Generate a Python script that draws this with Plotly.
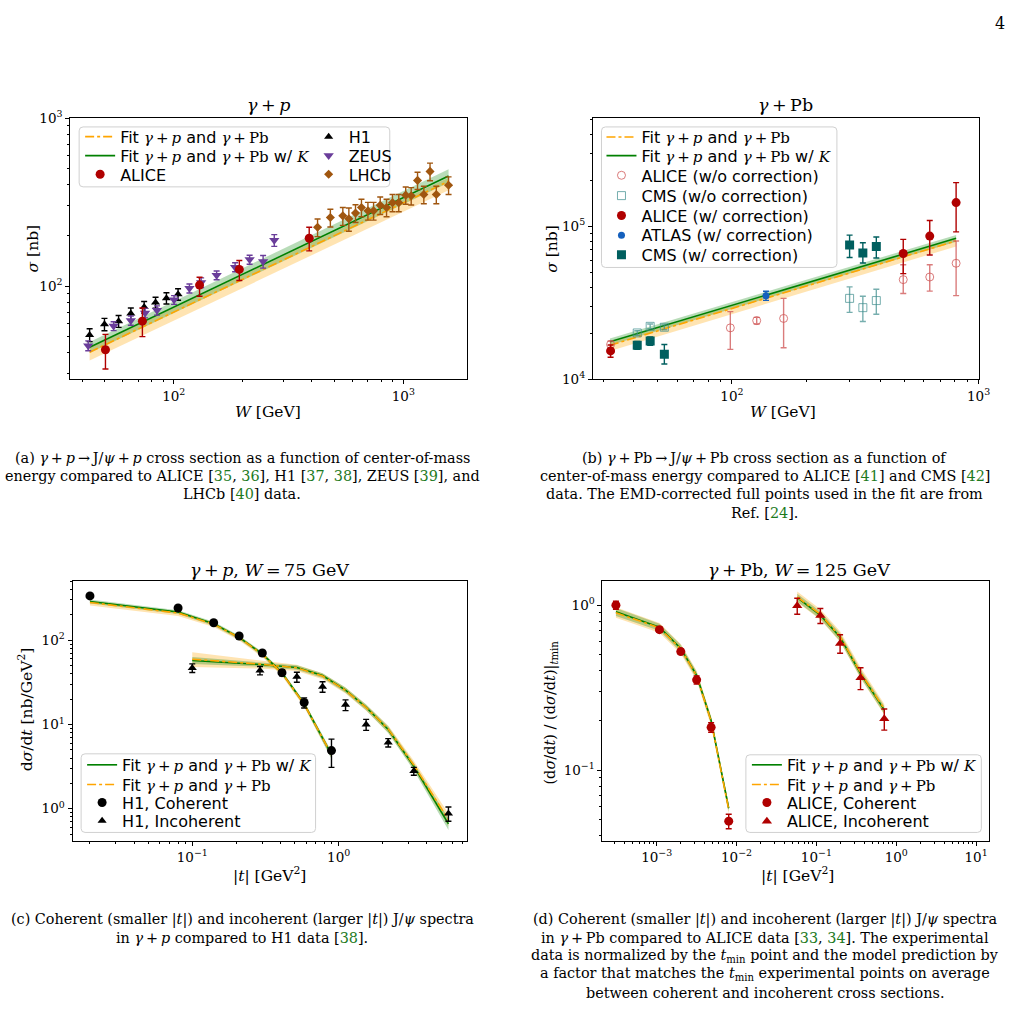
import plotly.graph_objects as go

FIG_W, FIG_H = 1024, 1034
SERIF = "DejaVu Serif"
SANS = "DejaVu Sans"
TS = "\u2009"  # thin space used for math spacing

# ---------------- Panel (a): gamma + p cross section ----------------
h1_W = [43.0, 49.9, 57.5, 65.0, 74.3, 83.3, 92.9, 104.4]
h1_sigma = [51.2, 59.2, 61.8, 68.6, 75.0, 79.8, 84.7, 89.4]
h1_err = [4.5, 5.0, 5.0, 5.5, 6.0, 6.0, 6.5, 7.0]

zeus_W = [42.4, 54.7, 65.0, 75.0, 84.5, 100.3, 117.0, 131.6, 153.7, 185.0, 214.0, 245.0, 274.0]
zeus_sigma = [44.2, 57.8, 62.4, 69.2, 71.7, 82.8, 97.0, 105.0, 116.0, 129.7, 143.8, 140.0, 187.5]
zeus_err = [3.0, 3.5, 4.0, 4.5, 4.5, 5.0, 6.0, 7.0, 7.0, 8.0, 9.0, 12.0, 15.0]

alice_p_W = [50.4, 73.0, 129.5, 193.0, 389.0]
alice_p_sigma = [41.8, 61.8, 101.4, 125.7, 192.6]
alice_p_err_hi = [9.8, 12.2, 11.6, 16.3, 31.4]
alice_p_err_lo = [9.7, 11.8, 14.4, 17.7, 30.6]

lhcb_W = [423, 481, 545, 579, 619, 657, 701, 742, 793, 845, 897, 955, 1024, 1082, 1153, 1228, 1307, 1392, 1574]
lhcb_sigma = [224, 256, 262, 252, 272, 294, 281, 281, 303, 294, 314, 314, 348, 345, 426, 351, 482, 351, 399]
lhcb_err = [27, 31, 32, 40, 33, 35, 34, 34, 36, 35, 37, 37, 41, 41, 50, 42, 58, 42, 48]

fit_a_W = [43.0, 1574.0]
fit_a_green = [43.2, 452.0]
fit_a_green_lo = [40.0, 412.0]
fit_a_green_hi = [46.5, 497.0]
fit_a_orange = [40.4, 421.0]
fit_a_orange_lo = [36.0, 372.0]
fit_a_orange_hi = [43.0, 442.0]

# ---------------- Panel (b): gamma + Pb cross section ----------------
alice_wo_W = [32.2, 98.5, 126.0, 162.0, 495.0, 634.0, 811.0]
alice_wo_sigma = [16900, 21700, 24200, 25000, 44800, 46600, 57300]
alice_wo_err_hi = [900, 6000, 1200, 8800, 11200, 9400, 22800]
alice_wo_err_lo = [900, 6000, 1200, 8900, 8400, 8900, 22100]

cms_wo_W = [41.3, 46.6, 53.2, 300.0, 339.5, 385.0]
cms_wo_sigma = [20100, 22200, 21900, 33800, 29400, 32700]
cms_wo_err = [700, 800, 800, 6400, 5500, 6100]

alice_w_W = [32.2, 495.0, 634.0, 811.0]
alice_w_sigma = [15350, 66400, 86200, 142600]
alice_w_err_hi = [1400, 15600, 22800, 50100]
alice_w_err_lo = [1400, 17400, 21300, 50700]

atlas_W = [137.4]
atlas_sigma = [35200]
atlas_err = [2400]

cms_w_W = [41.3, 46.6, 53.2, 300.0, 339.5, 385.0]
cms_w_sigma = [16700, 17800, 14600, 75500, 66800, 73600]
cms_w_err_hi = [1000, 1100, 2300, 12000, 11200, 11400]
cms_w_err_lo = [1000, 1100, 2000, 13000, 9300, 11600]

fit_b_W = [32.0, 811.0]
fit_b_green = [17600, 83400]
fit_b_green_lo = [16700, 79200]
fit_b_green_hi = [18500, 87600]
fit_b_orange = [16700, 80200]
fit_b_orange_lo = [15300, 73800]
fit_b_orange_hi = [17400, 82800]

# ---------------- Panel (c): gamma + p, W = 75 GeV ----------------
h1_coh_t = [0.020, 0.080, 0.140, 0.209, 0.301, 0.410, 0.581, 0.893]
h1_coh_y = [335, 241, 161, 112, 70.4, 41.2, 18.2, 4.9]
h1_coh_err_hi = [15, 10, 7, 5, 4, 3.5, 2.5, 1.8]
h1_coh_err_lo = [15, 10, 7, 5, 4, 3.5, 2.5, 1.8]

h1_inc_t = [0.10, 0.29, 0.518, 0.776, 1.114, 1.54, 2.18, 3.26, 5.62]
h1_inc_y = [46.8, 43.8, 36.7, 28.1, 17.1, 10.0, 6.1, 2.8, 0.88]
h1_inc_err = [5.5, 5.0, 5.0, 4.0, 2.5, 1.5, 0.7, 0.3, 0.17]

fit_c_coh_t = [0.020, 0.080, 0.140, 0.209, 0.301, 0.410, 0.581, 0.893]
fit_c_coh_green = [288, 216, 157, 108, 68.7, 41.0, 17.6, 4.4]
fit_c_coh_green_lo = [272, 204, 148, 102, 64.6, 38.5, 16.4, 3.9]
fit_c_coh_green_hi = [303, 227, 165, 114, 72.5, 43.4, 18.7, 4.8]
fit_c_coh_orange = [280, 210, 155, 107, 68.0, 40.6, 17.4, 4.4]
fit_c_coh_orange_lo = [258, 193, 143, 99, 63.0, 37.5, 16.0, 4.0]
fit_c_coh_orange_hi = [293, 221, 162, 112, 71.3, 42.6, 18.4, 4.7]

fit_c_inc_t = [0.10, 0.29, 0.518, 0.776, 1.114, 1.54, 2.18, 3.26, 5.62]
fit_c_inc_green = [57.4, 51.5, 47.5, 38.0, 25.6, 16.0, 8.7, 3.2, 0.66]
fit_c_inc_green_lo = [52.0, 48.5, 44.6, 35.5, 23.8, 14.7, 7.9, 2.85, 0.56]
fit_c_inc_green_hi = [63.0, 54.5, 50.4, 40.6, 27.5, 17.3, 9.5, 3.5, 0.77]
fit_c_inc_orange = [59.5, 52.0, 47.0, 37.5, 25.4, 15.9, 8.8, 3.3, 0.74]
fit_c_inc_orange_lo = [48.0, 46.0, 43.0, 34.5, 23.3, 14.5, 8.0, 2.95, 0.62]
fit_c_inc_orange_hi = [72.0, 58.0, 51.0, 40.5, 27.5, 17.3, 9.7, 3.7, 0.88]

# ---------------- Panel (d): gamma + Pb, W = 125 GeV ----------------
alice_coh_t = [3.08e-4, 1.08e-3, 2.0e-3, 3.16e-3, 4.8e-3, 7.97e-3]
alice_coh_y = [1.0, 0.71, 0.523, 0.353, 0.182, 0.0492]
alice_coh_err = [0.055, 0.025, 0.02, 0.02, 0.012, 0.005]

alice_inc_t = [0.0575, 0.112, 0.198, 0.357, 0.708]
alice_inc_y = [0.99, 0.864, 0.586, 0.363, 0.205]
alice_inc_err = [0.11, 0.09, 0.075, 0.055, 0.03]

fit_d_coh_t = [3.08e-4, 1.08e-3, 2.0e-3, 3.16e-3, 4.8e-3, 7.97e-3]
fit_d_coh_green = [0.912, 0.735, 0.547, 0.376, 0.200, 0.0589]
fit_d_coh_green_lo = [0.86, 0.70, 0.52, 0.357, 0.190, 0.0560]
fit_d_coh_green_hi = [0.96, 0.77, 0.575, 0.395, 0.210, 0.0620]
fit_d_coh_orange = [0.900, 0.728, 0.543, 0.373, 0.198, 0.0580]
fit_d_coh_orange_lo = [0.84, 0.68, 0.508, 0.349, 0.185, 0.0542]
fit_d_coh_orange_hi = [0.97, 0.78, 0.582, 0.400, 0.212, 0.0622]

fit_d_inc_t = [0.0575, 0.112, 0.198, 0.357, 0.708]
fit_d_inc_green = [1.11, 0.87, 0.64, 0.385, 0.232]
fit_d_inc_green_lo = [1.05, 0.825, 0.605, 0.364, 0.219]
fit_d_inc_green_hi = [1.17, 0.915, 0.675, 0.406, 0.245]
fit_d_inc_orange = [1.12, 0.88, 0.645, 0.39, 0.235]
fit_d_inc_orange_lo = [1.04, 0.815, 0.598, 0.361, 0.217]
fit_d_inc_orange_hi = [1.21, 0.945, 0.695, 0.42, 0.252]

# ---------------- Axis ticks ----------------
ticks_a_x = [100, 1000]
ticklabels_a_x = ["10<sup>2</sup>", "10<sup>3</sup>"]
minor_a_x = [40, 50, 60, 70, 80, 90, 200, 300, 400, 500, 600, 700, 800, 900]
ticks_a_y = [100, 1000]
ticklabels_a_y = ["10<sup>2</sup>", "10<sup>3</sup>"]
minor_a_y = [30, 40, 50, 60, 70, 80, 90, 200, 300, 400, 500, 600, 700, 800, 900]

ticks_b_x = [100, 1000]
ticklabels_b_x = ["10<sup>2</sup>", "10<sup>3</sup>"]
minor_b_x = [30, 40, 50, 60, 70, 80, 90, 200, 300, 400, 500, 600, 700, 800, 900]
ticks_b_y = [1e4, 1e5]
ticklabels_b_y = ["10<sup>4</sup>", "10<sup>5</sup>"]
minor_b_y = [2e4, 3e4, 4e4, 5e4, 6e4, 7e4, 8e4, 9e4, 2e5, 3e5, 4e5, 5e5]

ticks_c_x = [0.1, 1.0]
ticklabels_c_x = ["10<sup>−1</sup>", "10<sup>0</sup>"]
minor_c_x = [0.02, 0.03, 0.04, 0.05, 0.06, 0.07, 0.08, 0.09,
             0.2, 0.3, 0.4, 0.5, 0.6, 0.7, 0.8, 0.9, 2, 3, 4, 5, 6, 7]
ticks_c_y = [1.0, 10.0, 100.0]
ticklabels_c_y = ["10<sup>0</sup>", "10<sup>1</sup>", "10<sup>2</sup>"]
minor_c_y = [0.5, 0.6, 0.7, 0.8, 0.9, 2, 3, 4, 5, 6, 7, 8, 9,
             20, 30, 40, 50, 60, 70, 80, 90, 200, 300, 400, 500]

ticks_d_x = [1e-3, 1e-2, 1e-1, 1.0, 10.0]
ticklabels_d_x = ["10<sup>−3</sup>", "10<sup>−2</sup>", "10<sup>−1</sup>", "10<sup>0</sup>", "10<sup>1</sup>"]
minor_d_x = [m * 10.0 ** e for e in (-4, -3, -2, -1, 0, 1) for m in range(2, 10)]
ticks_d_y = [0.1, 1.0]
ticklabels_d_y = ["10<sup>−1</sup>", "10<sup>0</sup>"]
minor_d_y = [0.04, 0.05, 0.06, 0.07, 0.08, 0.09, 0.2, 0.3, 0.4, 0.5, 0.6, 0.7, 0.8, 0.9]

# ---------------- Colours ----------------
C_GREEN = "#008000"
C_ORANGE = "#ffa500"
C_GREEN_BAND = "rgba(0,128,0,0.28)"
C_ORANGE_BAND = "rgba(255,165,0,0.30)"
C_RED = "#b00000"
C_RED_LIGHT = "rgba(205,80,80,0.75)"
C_TEAL = "#005f5f"
C_TEAL_LIGHT = "rgba(60,140,140,0.7)"
C_BLUE = "#1560bd"
C_PURPLE = "#6a3d9a"
C_BROWN = "#a0560f"
C_REF = "#1d7a1d"

LEG_FONT = 16
MATH_FONT = 15
TICK_FONT = 13.5
LABEL_FONT = 15.5
TITLE_FONT = 17.5
CAPTION_FONT = 14.4


def px(x):
    return x / FIG_W


def py(y):
    return 1 - y / FIG_H


def m(s, size=None):
    sz = f";font-size:{size}px" if size else ""
    return f'<span style="font-family:{SERIF}{sz}">{s}</span>'


def op(sym):
    return TS + sym + TS


FIT_LABEL = ("Fit " + m("<i>γ</i>" + op("+") + "<i>p</i>", MATH_FONT) + " and "
             + m("<i>γ</i>" + op("+") + "Pb", MATH_FONT))
FIT_K_LABEL = FIT_LABEL + " w/ " + m("<i>K</i>", MATH_FONT)

fig = go.Figure()
legend_specs = {}


def new_legend(left, yc):
    n = len(legend_specs) + 1
    key = "legend" if n == 1 else f"legend{n}"
    legend_specs[key] = dict(
        x=px(left), y=py(yc), xanchor="left", yanchor="middle",
        bgcolor="rgba(0,0,0,0)", borderwidth=0,
        font=dict(family=SANS, size=LEG_FONT, color="black"),
        itemwidth=30, tracegroupgap=0)
    return key


def band(x, lo, hi, color, xa, ya):
    fig.add_trace(go.Scatter(
        x=list(x) + list(x)[::-1], y=list(hi) + list(lo)[::-1],
        fill="toself", fillcolor=color, line=dict(width=0), mode="lines",
        showlegend=False, hoverinfo="skip", xaxis=xa, yaxis=ya))


def line(x, y, color, dash, name, leg, xa, ya):
    kw = dict(legend=new_legend(*leg), showlegend=True) if leg else dict(showlegend=False)
    fig.add_trace(go.Scatter(
        x=x, y=y, mode="lines", line=dict(color=color, width=1.6, dash=dash),
        name=name, xaxis=xa, yaxis=ya, **kw))


def points(x, y, lo, hi, color, symbol, size, name, leg, xa, ya, open_=False):
    marker = dict(symbol=symbol, size=size, color=color)
    marker["line"] = dict(color=color, width=1) if open_ else dict(width=0)
    fig.add_trace(go.Scatter(
        x=x, y=y, mode="markers", marker=marker, name=name,
        legend=new_legend(*leg), showlegend=True,
        error_y=dict(type="data", symmetric=False, array=hi, arrayminus=lo,
                     color=color, thickness=1.4, width=3),
        xaxis=xa, yaxis=ya))


# ----- panel a -----
band(fit_a_W, fit_a_orange_lo, fit_a_orange_hi, C_ORANGE_BAND, "x", "y")
band(fit_a_W, fit_a_green_lo, fit_a_green_hi, C_GREEN_BAND, "x", "y")
line(fit_a_W, fit_a_orange, C_ORANGE, "dashdot", FIT_LABEL, (81, 129), "x", "y")
line(fit_a_W, fit_a_green, C_GREEN, "solid", FIT_K_LABEL, (81, 148.3), "x", "y")
points(h1_W, h1_sigma, h1_err, h1_err, "black", "triangle-up", 8, "H1", (312, 129), "x", "y")
points(zeus_W, zeus_sigma, zeus_err, zeus_err, C_PURPLE, "triangle-down", 9, "ZEUS", (312, 148.3), "x", "y")
points(lhcb_W, lhcb_sigma, lhcb_err, lhcb_err, C_BROWN, "diamond", 7, "LHCb", (312, 167.3), "x", "y")
points(alice_p_W, alice_p_sigma, alice_p_err_lo, alice_p_err_hi, C_RED, "circle", 9, "ALICE", (81, 167.3), "x", "y")

# ----- panel b -----
band(fit_b_W, fit_b_orange_lo, fit_b_orange_hi, C_ORANGE_BAND, "x2", "y2")
band(fit_b_W, fit_b_green_lo, fit_b_green_hi, C_GREEN_BAND, "x2", "y2")
line(fit_b_W, fit_b_orange, C_ORANGE, "dashdot", FIT_LABEL, (608, 129.3), "x2", "y2")
line(fit_b_W, fit_b_green, C_GREEN, "solid", FIT_K_LABEL, (608, 148.3), "x2", "y2")
points(alice_wo_W, alice_wo_sigma, alice_wo_err_lo, alice_wo_err_hi, C_RED_LIGHT, "circle-open", 8,
       "ALICE (w/o correction)", (608, 168.3), "x2", "y2", open_=True)
points(cms_wo_W, cms_wo_sigma, cms_wo_err, cms_wo_err, C_TEAL_LIGHT, "square-open", 8,
       "CMS (w/o correction)", (608, 189), "x2", "y2", open_=True)
points(alice_w_W, alice_w_sigma, alice_w_err_lo, alice_w_err_hi, C_RED, "circle", 9,
       "ALICE (w/ correction)", (608, 209.3), "x2", "y2")
points(atlas_W, atlas_sigma, atlas_err, atlas_err, C_BLUE, "circle", 7,
       "ATLAS (w/ correction)", (608, 229.3), "x2", "y2")
points(cms_w_W, cms_w_sigma, cms_w_err_lo, cms_w_err_hi, C_TEAL, "square", 9,
       "CMS (w/ correction)", (608, 249.3), "x2", "y2")

# ----- panel c -----
band(fit_c_coh_t, fit_c_coh_orange_lo, fit_c_coh_orange_hi, C_ORANGE_BAND, "x3", "y3")
band(fit_c_inc_t, fit_c_inc_orange_lo, fit_c_inc_orange_hi, C_ORANGE_BAND, "x3", "y3")
band(fit_c_coh_t, fit_c_coh_green_lo, fit_c_coh_green_hi, C_GREEN_BAND, "x3", "y3")
band(fit_c_inc_t, fit_c_inc_green_lo, fit_c_inc_green_hi, C_GREEN_BAND, "x3", "y3")
line(fit_c_coh_t, fit_c_coh_green, C_GREEN, "solid", FIT_K_LABEL, (83, 768.3), "x3", "y3")
line(fit_c_inc_t, fit_c_inc_green, C_GREEN, "solid", FIT_K_LABEL, None, "x3", "y3")
line(fit_c_coh_t, fit_c_coh_orange, C_ORANGE, "dashdot", FIT_LABEL, (83, 788.3), "x3", "y3")
line(fit_c_inc_t, fit_c_inc_orange, C_ORANGE, "dashdot", FIT_LABEL, None, "x3", "y3")
points(h1_coh_t, h1_coh_y, h1_coh_err_lo, h1_coh_err_hi, "black", "circle", 9, "H1, Coherent",
       (83, 806.7), "x3", "y3")
points(h1_inc_t, h1_inc_y, h1_inc_err, h1_inc_err, "black", "triangle-up", 8, "H1, Incoherent",
       (83, 825.3), "x3", "y3")

# ----- panel d -----
band(fit_d_coh_t, fit_d_coh_orange_lo, fit_d_coh_orange_hi, C_ORANGE_BAND, "x4", "y4")
band(fit_d_inc_t, fit_d_inc_orange_lo, fit_d_inc_orange_hi, C_ORANGE_BAND, "x4", "y4")
band(fit_d_coh_t, fit_d_coh_green_lo, fit_d_coh_green_hi, C_GREEN_BAND, "x4", "y4")
band(fit_d_inc_t, fit_d_inc_green_lo, fit_d_inc_green_hi, C_GREEN_BAND, "x4", "y4")
line(fit_d_coh_t, fit_d_coh_green, C_GREEN, "solid", FIT_K_LABEL, (755, 768.3), "x4", "y4")
line(fit_d_inc_t, fit_d_inc_green, C_GREEN, "solid", FIT_K_LABEL, None, "x4", "y4")
line(fit_d_coh_t, fit_d_coh_orange, C_ORANGE, "dashdot", FIT_LABEL, (755, 788.3), "x4", "y4")
line(fit_d_inc_t, fit_d_inc_orange, C_ORANGE, "dashdot", FIT_LABEL, None, "x4", "y4")
points(alice_coh_t, alice_coh_y, alice_coh_err, alice_coh_err, C_RED, "circle", 9, "ALICE, Coherent",
       (755, 806.7), "x4", "y4")
points(alice_inc_t, alice_inc_y, alice_inc_err, alice_inc_err, C_RED, "triangle-up", 9, "ALICE, Incoherent",
       (755, 825.7), "x4", "y4")


def log_axis(domain, rng, tv, tt, minor, anchor):
    return dict(
        type="log", domain=domain, range=rng, anchor=anchor,
        showline=True, mirror=True, linecolor="black", linewidth=1,
        ticks="outside", ticklen=4, tickwidth=1, tickcolor="black",
        tickmode="array", tickvals=tv, ticktext=tt,
        tickfont=dict(family=SERIF, size=TICK_FONT, color="black"),
        showgrid=False, zeroline=False,
        minor=dict(tickmode="array", tickvals=minor, ticks="outside",
                   ticklen=2, tickwidth=0.8, tickcolor="black", showgrid=False),
    )


dom_a_x = [px(71), px(472)]
dom_b_x = [px(599.3), px(989.3)]
dom_top_y = [py(376), py(110)]
dom_c_x = [px(73.3), px(471.7)]
dom_d_x = [px(609), px(1000)]
dom_bot_y = [py(845.5), py(581.3)]

fig.update_layout(
    width=FIG_W, height=FIG_H, autosize=False,
    margin=dict(l=0, r=0, t=0, b=0),
    paper_bgcolor="white", plot_bgcolor="white",
    showlegend=True,
    xaxis=log_axis(dom_a_x, [1.549, 3.277], ticks_a_x, ticklabels_a_x, minor_a_x, "y"),
    yaxis=log_axis(dom_top_y, [1.444, 3.0005], ticks_a_y, ticklabels_a_y, minor_a_y, "x"),
    xaxis2=log_axis(dom_b_x, [1.436, 3.0005], ticks_b_x, ticklabels_b_x, minor_b_x, "y2"),
    yaxis2=log_axis(dom_top_y, [3.9995, 5.706], ticks_b_y, ticklabels_b_y, minor_b_y, "x2"),
    xaxis3=log_axis(dom_c_x, [-1.818, 0.874], ticks_c_x, ticklabels_c_x, minor_c_x, "y3"),
    yaxis3=log_axis(dom_bot_y, [-0.38, 2.70], ticks_c_y, ticklabels_c_y, minor_c_y, "x3"),
    xaxis4=log_axis(dom_d_x, [-3.68, 1.165], ticks_d_x, ticklabels_d_x, minor_d_x, "y4"),
    yaxis4=log_axis(dom_bot_y, [-1.427, 0.145], ticks_d_y, ticklabels_d_y, minor_d_y, "x4"),
    **legend_specs,
)


# legend frames with rounded corners
def rounded_rect_path(x0, y0, x1, y1, r=4):
    X = lambda v: f"{px(v):.6f}"
    Y = lambda v: f"{py(v):.6f}"
    return (f"M{X(x0 + r)},{Y(y0)} L{X(x1 - r)},{Y(y0)} Q{X(x1)},{Y(y0)} {X(x1)},{Y(y0 + r)} "
            f"L{X(x1)},{Y(y1 - r)} Q{X(x1)},{Y(y1)} {X(x1 - r)},{Y(y1)} "
            f"L{X(x0 + r)},{Y(y1)} Q{X(x0)},{Y(y1)} {X(x0)},{Y(y1 - r)} "
            f"L{X(x0)},{Y(y0 + r)} Q{X(x0)},{Y(y0)} {X(x0 + r)},{Y(y0)} Z")


frames = [(80, 119, 394, 180), (608, 119, 846, 262), (82, 757, 319, 837), (754, 758, 992, 837)]
for (x0, y0, x1, y1) in frames:
    fig.add_shape(type="path", xref="paper", yref="paper",
                  path=rounded_rect_path(x0, y0, x1, y1),
                  line=dict(color="#d0d0d0", width=1), fillcolor="rgba(255,255,255,0.8)",
                  layer="above")


def ann(text, x, y, size=LABEL_FONT, angle=0, family=SERIF):
    fig.add_annotation(text=text, x=px(x), y=py(y), xref="paper", yref="paper",
                       showarrow=False, textangle=angle, xanchor="center", yanchor="middle",
                       font=dict(family=family, size=size, color="black"))


# panel titles
ann("<i>γ</i>" + op("+") + "<i>p</i>", 271, 97, TITLE_FONT)
ann("<i>γ</i>" + op("+") + "Pb", 794, 97, TITLE_FONT)
ann("<i>γ</i>" + op("+") + "<i>p</i>, <i>W</i>" + op("=") + "75 GeV", 272, 570, TITLE_FONT)
ann("<i>γ</i>" + op("+") + "Pb, <i>W</i>" + op("=") + "125 GeV", 808, 570, TITLE_FONT)

# axis titles
ann("<i>W</i> [GeV]", 271, 409)
ann("<i>W</i> [GeV]", 792, 409)
ann("|<i>t</i>| [GeV<sup>2</sup>]", 272, 880)
ann("|<i>t</i>| [GeV<sup>2</sup>]", 806, 880)
ann("<i>σ</i> [nb]", 33, 243, angle=-90)
ann("<i>σ</i> [nb]", 558, 243, angle=-90)
ann("d<i>σ</i>/d<i>t</i> [nb/GeV<sup>2</sup>]", 26, 712, angle=-90)
ann("(d<i>σ</i>/d<i>t</i>) / (d<i>σ</i>/d<i>t</i>)|<sub><i>t</i>min</sub>", 557, 715, 14.5, angle=-90)

# page number
ann("4", 1011, 14, 16)


def ref(n):
    return f'<span style="color:{C_REF}">{n}</span>'


G = "<i>γ</i>"
caption_lines = [
    (245, 456, "(a) " + G + op("+") + "<i>p</i>" + op("→") + "J/<i>ψ</i>" + op("+")
     + "<i>p</i> cross section as a function of center-of-mass"),
    (245, 474.5, "energy compared to ALICE [" + ref(35) + ", " + ref(36) + "], H1 [" + ref(37) + ", " + ref(38)
     + "], ZEUS [" + ref(39) + "], and"),
    (245, 493, "LHCb [" + ref(40) + "] data."),
    (773, 456, "(b) " + G + op("+") + "Pb" + op("→") + "J/<i>ψ</i>" + op("+") + "Pb cross section as a function of"),
    (773, 474.5, "center-of-mass energy compared to ALICE [" + ref(41) + "] and CMS [" + ref(42) + "]"),
    (773, 493, "data. The EMD-corrected full points used in the fit are from"),
    (773, 511.5, "Ref. [" + ref(24) + "]."),
    (245, 926, "(c) Coherent (smaller |<i>t</i>|) and incoherent (larger |<i>t</i>|) J/<i>ψ</i> spectra"),
    (245, 944.5, "in " + G + op("+") + "<i>p</i> compared to H1 data [" + ref(38) + "]."),
    (773, 926, "(d) Coherent (smaller |<i>t</i>|) and incoherent (larger |<i>t</i>|) J/<i>ψ</i> spectra"),
    (773, 944.5, "in " + G + op("+") + "Pb compared to ALICE data [" + ref(33) + ", " + ref(34)
     + "]. The experimental"),
    (773, 963, "data is normalized by the <i>t</i><sub>min</sub> point and the model prediction by"),
    (773, 981.5, "a factor that matches the <i>t</i><sub>min</sub> experimental points on average"),
    (773, 1000, "between coherent and incoherent cross sections."),
]
for (cx, cy, txt) in caption_lines:
    ann(txt, cx, cy, CAPTION_FONT)

fig.write_html("out.html", post_script="document.body.style.margin='0px';")
